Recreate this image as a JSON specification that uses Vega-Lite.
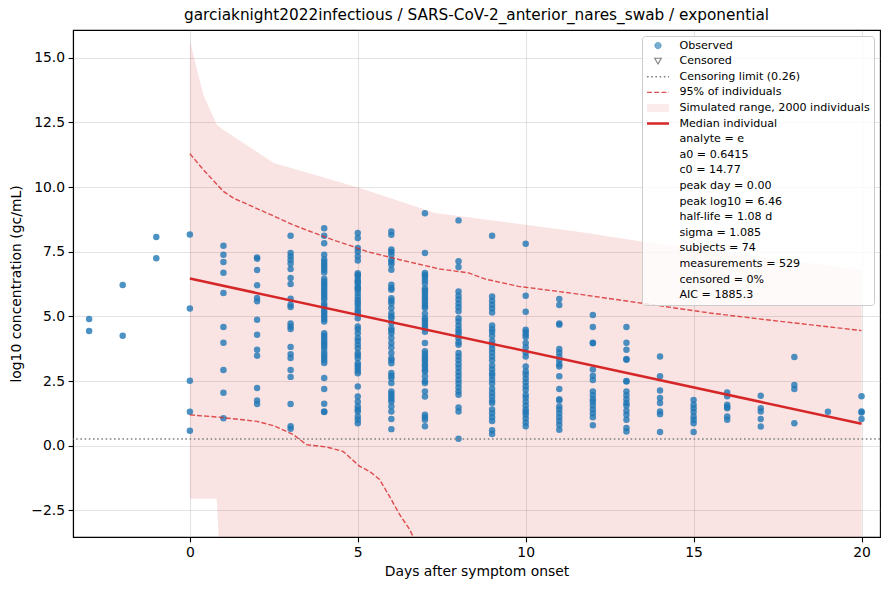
{
  "$schema": "https://vega.github.io/schema/vega-lite/v6.json",
  "width": 807,
  "height": 507,
  "autosize": {"type": "none"},
  "padding": {"left": 73, "top": 30, "right": 9, "bottom": 53},
  "background": "white",
  "title": {
    "text": "garciaknight2022infectious / SARS-CoV-2_anterior_nares_swab / exponential",
    "font": "DejaVu Sans", "fontSize": 15.3, "fontWeight": "normal", "color": "black",
    "anchor": "middle", "frame": "group", "offset": 7
  },
  "config": {
    "view": {"stroke": "black", "strokeWidth": 1.1},
    "axis": {
      "labelFont": "DejaVu Sans", "titleFont": "DejaVu Sans",
      "labelFontSize": 13.9, "titleFontSize": 13.9, "titleFontWeight": "normal",
      "labelColor": "black", "titleColor": "black",
      "tickColor": "black", "tickWidth": 1.1, "tickSize": 4.9, "labelPadding": 3.5,
      "domainColor": "black", "domainWidth": 1.1,
      "grid": true, "gridColor": "#b0b0b0", "gridOpacity": 0.35, "gridWidth": 1.1
    },
    "legend": {
      "orient": "top-right",
      "offset": 6,
      "padding": 4,
      "fillColor": "rgba(255,255,255,0.8)",
      "strokeColor": "#cccccc",
      "cornerRadius": 3,
      "labelFont": "DejaVu Sans",
      "labelFontSize": 11.1,
      "labelColor": "black",
      "labelLimit": 400,
      "labelOffset": 15.9,
      "symbolOffset": 6.45,
      "rowPadding": 3.6,
      "symbolLimit": 40
    }
  },
  "datasets": {
    "obs": [
      {"day": -3, "log10": 4.90}, {"day": -3, "log10": 4.43},
      {"day": -2, "log10": 6.21}, {"day": -2, "log10": 4.25},
      {"day": -1, "log10": 8.07}, {"day": -1, "log10": 7.25},
      {"day": 0, "log10": 8.16}, {"day": 0, "log10": 5.30}, {"day": 0, "log10": 2.51}, {"day": 0, "log10": 1.31}, {"day": 0, "log10": 0.58},
      {"day": 1, "log10": 7.73}, {"day": 1, "log10": 7.38}, {"day": 1, "log10": 7.10}, {"day": 1, "log10": 6.69}, {"day": 1, "log10": 5.90}, {"day": 1, "log10": 4.59}, {"day": 1, "log10": 3.98}, {"day": 1, "log10": 2.93}, {"day": 1, "log10": 2.05}, {"day": 1, "log10": 1.06},
      {"day": 2, "log10": 7.28}, {"day": 2, "log10": 7.23}, {"day": 2, "log10": 6.79}, {"day": 2, "log10": 6.20}, {"day": 2, "log10": 5.71}, {"day": 2, "log10": 5.58}, {"day": 2, "log10": 4.87}, {"day": 2, "log10": 4.29}, {"day": 2, "log10": 3.71}, {"day": 2, "log10": 3.48}, {"day": 2, "log10": 2.23}, {"day": 2, "log10": 1.75}, {"day": 2, "log10": 1.61},
      {"day": 3, "log10": 8.12}, {"day": 3, "log10": 7.45}, {"day": 3, "log10": 7.32}, {"day": 3, "log10": 7.19}, {"day": 3, "log10": 7.04}, {"day": 3, "log10": 6.83}, {"day": 3, "log10": 6.48}, {"day": 3, "log10": 6.25}, {"day": 3, "log10": 5.68}, {"day": 3, "log10": 5.45}, {"day": 3, "log10": 5.36}, {"day": 3, "log10": 4.72}, {"day": 3, "log10": 4.61}, {"day": 3, "log10": 4.51}, {"day": 3, "log10": 3.82}, {"day": 3, "log10": 3.54}, {"day": 3, "log10": 3.39}, {"day": 3, "log10": 2.93}, {"day": 3, "log10": 2.66}, {"day": 3, "log10": 1.61}, {"day": 3, "log10": 0.75}, {"day": 3, "log10": 0.65},
      {"day": 4, "log10": 8.41}, {"day": 4, "log10": 8.12}, {"day": 4, "log10": 7.83}, {"day": 4, "log10": 7.38}, {"day": 4, "log10": 7.2}, {"day": 4, "log10": 7.1}, {"day": 4, "log10": 7.0}, {"day": 4, "log10": 6.9}, {"day": 4, "log10": 6.8}, {"day": 4, "log10": 6.7}, {"day": 4, "log10": 6.45}, {"day": 4, "log10": 6.35}, {"day": 4, "log10": 6.25}, {"day": 4, "log10": 6.15}, {"day": 4, "log10": 6.05}, {"day": 4, "log10": 5.95}, {"day": 4, "log10": 5.85}, {"day": 4, "log10": 5.75}, {"day": 4, "log10": 5.65}, {"day": 4, "log10": 5.5}, {"day": 4, "log10": 5.4}, {"day": 4, "log10": 5.3}, {"day": 4, "log10": 5.2}, {"day": 4, "log10": 5.1}, {"day": 4, "log10": 5.0}, {"day": 4, "log10": 4.9}, {"day": 4, "log10": 4.8}, {"day": 4, "log10": 4.35}, {"day": 4, "log10": 4.25}, {"day": 4, "log10": 4.15}, {"day": 4, "log10": 4.05}, {"day": 4, "log10": 3.95}, {"day": 4, "log10": 3.85}, {"day": 4, "log10": 3.75}, {"day": 4, "log10": 3.6}, {"day": 4, "log10": 3.5}, {"day": 4, "log10": 3.4}, {"day": 4, "log10": 3.3}, {"day": 4, "log10": 3.2}, {"day": 4, "log10": 2.62}, {"day": 4, "log10": 2.19}, {"day": 4, "log10": 1.62}, {"day": 4, "log10": 1.32}, {"day": 4, "log10": 1.30},
      {"day": 5, "log10": 8.22}, {"day": 5, "log10": 8.03}, {"day": 5, "log10": 7.64}, {"day": 5, "log10": 7.51}, {"day": 5, "log10": 7.32}, {"day": 5, "log10": 7.16}, {"day": 5, "log10": 6.67}, {"day": 5, "log10": 6.6}, {"day": 5, "log10": 6.54}, {"day": 5, "log10": 6.41}, {"day": 5, "log10": 6.35}, {"day": 5, "log10": 6.28}, {"day": 5, "log10": 6.15}, {"day": 5, "log10": 6.1}, {"day": 5, "log10": 6.03}, {"day": 5, "log10": 5.9}, {"day": 5, "log10": 5.77}, {"day": 5, "log10": 5.64}, {"day": 5, "log10": 5.55}, {"day": 5, "log10": 5.45}, {"day": 5, "log10": 5.32}, {"day": 5, "log10": 5.2}, {"day": 5, "log10": 5.12}, {"day": 5, "log10": 4.93}, {"day": 5, "log10": 4.61}, {"day": 5, "log10": 4.5}, {"day": 5, "log10": 4.35}, {"day": 5, "log10": 4.16}, {"day": 5, "log10": 4.05}, {"day": 5, "log10": 3.90}, {"day": 5, "log10": 3.77}, {"day": 5, "log10": 3.58}, {"day": 5, "log10": 3.5}, {"day": 5, "log10": 3.38}, {"day": 5, "log10": 3.19}, {"day": 5, "log10": 3.1}, {"day": 5, "log10": 3.0}, {"day": 5, "log10": 2.9}, {"day": 5, "log10": 2.8}, {"day": 5, "log10": 2.29}, {"day": 5, "log10": 1.90}, {"day": 5, "log10": 1.7}, {"day": 5, "log10": 1.52}, {"day": 5, "log10": 1.4}, {"day": 5, "log10": 1.32}, {"day": 5, "log10": 1.13}, {"day": 5, "log10": 1.0}, {"day": 5, "log10": 0.87},
      {"day": 6, "log10": 8.28}, {"day": 6, "log10": 8.15}, {"day": 6, "log10": 7.58}, {"day": 6, "log10": 7.5}, {"day": 6, "log10": 7.38}, {"day": 6, "log10": 7.19}, {"day": 6, "log10": 7.1}, {"day": 6, "log10": 7.0}, {"day": 6, "log10": 6.80}, {"day": 6, "log10": 6.22}, {"day": 6, "log10": 6.1}, {"day": 6, "log10": 6.03}, {"day": 6, "log10": 5.70}, {"day": 6, "log10": 5.6}, {"day": 6, "log10": 5.51}, {"day": 6, "log10": 5.32}, {"day": 6, "log10": 5.12}, {"day": 6, "log10": 5.0}, {"day": 6, "log10": 4.93}, {"day": 6, "log10": 4.74}, {"day": 6, "log10": 4.54}, {"day": 6, "log10": 4.45}, {"day": 6, "log10": 4.35}, {"day": 6, "log10": 4.16}, {"day": 6, "log10": 3.97}, {"day": 6, "log10": 3.8}, {"day": 6, "log10": 3.58}, {"day": 6, "log10": 3.38}, {"day": 6, "log10": 3.3}, {"day": 6, "log10": 3.19}, {"day": 6, "log10": 2.81}, {"day": 6, "log10": 2.7}, {"day": 6, "log10": 2.61}, {"day": 6, "log10": 2.42}, {"day": 6, "log10": 2.1}, {"day": 6, "log10": 2.0}, {"day": 6, "log10": 1.90}, {"day": 6, "log10": 1.8}, {"day": 6, "log10": 1.71}, {"day": 6, "log10": 1.52}, {"day": 6, "log10": 1.32}, {"day": 6, "log10": 1.03}, {"day": 6, "log10": 0.64},
      {"day": 7, "log10": 8.99}, {"day": 7, "log10": 7.45}, {"day": 7, "log10": 6.68}, {"day": 7, "log10": 6.6}, {"day": 7, "log10": 6.52}, {"day": 7, "log10": 6.4}, {"day": 7, "log10": 6.28}, {"day": 7, "log10": 6.09}, {"day": 7, "log10": 6.0}, {"day": 7, "log10": 5.90}, {"day": 7, "log10": 5.8}, {"day": 7, "log10": 5.70}, {"day": 7, "log10": 5.6}, {"day": 7, "log10": 5.51}, {"day": 7, "log10": 5.4}, {"day": 7, "log10": 5.32}, {"day": 7, "log10": 5.1}, {"day": 7, "log10": 4.93}, {"day": 7, "log10": 4.85}, {"day": 7, "log10": 4.74}, {"day": 7, "log10": 4.65}, {"day": 7, "log10": 4.54}, {"day": 7, "log10": 4.4}, {"day": 7, "log10": 3.97}, {"day": 7, "log10": 3.65}, {"day": 7, "log10": 3.55}, {"day": 7, "log10": 3.45}, {"day": 7, "log10": 3.35}, {"day": 7, "log10": 3.26}, {"day": 7, "log10": 3.15}, {"day": 7, "log10": 3.06}, {"day": 7, "log10": 2.95}, {"day": 7, "log10": 2.87}, {"day": 7, "log10": 2.68}, {"day": 7, "log10": 2.5}, {"day": 7, "log10": 2.42}, {"day": 7, "log10": 2.1}, {"day": 7, "log10": 1.90}, {"day": 7, "log10": 1.20}, {"day": 7, "log10": 1.1}, {"day": 7, "log10": 1.0}, {"day": 7, "log10": 0.75},
      {"day": 8, "log10": 8.71}, {"day": 8, "log10": 7.13}, {"day": 8, "log10": 6.91}, {"day": 8, "log10": 5.96}, {"day": 8, "log10": 5.8}, {"day": 8, "log10": 5.65}, {"day": 8, "log10": 5.5}, {"day": 8, "log10": 5.35}, {"day": 8, "log10": 5.2}, {"day": 8, "log10": 4.93}, {"day": 8, "log10": 4.8}, {"day": 8, "log10": 4.65}, {"day": 8, "log10": 4.5}, {"day": 8, "log10": 4.4}, {"day": 8, "log10": 4.3}, {"day": 8, "log10": 4.15}, {"day": 8, "log10": 4.0}, {"day": 8, "log10": 3.9}, {"day": 8, "log10": 3.58}, {"day": 8, "log10": 3.45}, {"day": 8, "log10": 3.3}, {"day": 8, "log10": 3.15}, {"day": 8, "log10": 3.0}, {"day": 8, "log10": 2.85}, {"day": 8, "log10": 2.7}, {"day": 8, "log10": 2.55}, {"day": 8, "log10": 2.4}, {"day": 8, "log10": 2.25}, {"day": 8, "log10": 2.1}, {"day": 8, "log10": 1.97}, {"day": 8, "log10": 1.48}, {"day": 8, "log10": 1.32}, {"day": 8, "log10": 0.27},
      {"day": 9, "log10": 8.12}, {"day": 9, "log10": 5.77}, {"day": 9, "log10": 5.6}, {"day": 9, "log10": 5.45}, {"day": 9, "log10": 5.3}, {"day": 9, "log10": 5.15}, {"day": 9, "log10": 4.65}, {"day": 9, "log10": 4.5}, {"day": 9, "log10": 4.4}, {"day": 9, "log10": 4.25}, {"day": 9, "log10": 4.05}, {"day": 9, "log10": 3.9}, {"day": 9, "log10": 3.75}, {"day": 9, "log10": 3.6}, {"day": 9, "log10": 3.45}, {"day": 9, "log10": 3.3}, {"day": 9, "log10": 3.1}, {"day": 9, "log10": 2.95}, {"day": 9, "log10": 2.8}, {"day": 9, "log10": 2.7}, {"day": 9, "log10": 2.55}, {"day": 9, "log10": 2.4}, {"day": 9, "log10": 2.2}, {"day": 9, "log10": 2.05}, {"day": 9, "log10": 1.9}, {"day": 9, "log10": 1.75}, {"day": 9, "log10": 1.65}, {"day": 9, "log10": 1.4}, {"day": 9, "log10": 1.25}, {"day": 9, "log10": 1.1}, {"day": 9, "log10": 0.95}, {"day": 9, "log10": 0.6}, {"day": 9, "log10": 0.45},
      {"day": 10, "log10": 7.81}, {"day": 10, "log10": 5.8}, {"day": 10, "log10": 5.18}, {"day": 10, "log10": 4.48}, {"day": 10, "log10": 4.4}, {"day": 10, "log10": 4.3}, {"day": 10, "log10": 4.2}, {"day": 10, "log10": 3.97}, {"day": 10, "log10": 3.8}, {"day": 10, "log10": 3.6}, {"day": 10, "log10": 3.45}, {"day": 10, "log10": 3.06}, {"day": 10, "log10": 2.87}, {"day": 10, "log10": 2.75}, {"day": 10, "log10": 2.6}, {"day": 10, "log10": 2.45}, {"day": 10, "log10": 2.3}, {"day": 10, "log10": 2.16}, {"day": 10, "log10": 1.97}, {"day": 10, "log10": 1.85}, {"day": 10, "log10": 1.7}, {"day": 10, "log10": 1.55}, {"day": 10, "log10": 1.4}, {"day": 10, "log10": 1.3}, {"day": 10, "log10": 1.2}, {"day": 10, "log10": 1.05}, {"day": 10, "log10": 0.9}, {"day": 10, "log10": 0.75},
      {"day": 11, "log10": 5.67}, {"day": 11, "log10": 5.44}, {"day": 11, "log10": 4.72}, {"day": 11, "log10": 4.68}, {"day": 11, "log10": 3.74}, {"day": 11, "log10": 3.6}, {"day": 11, "log10": 3.45}, {"day": 11, "log10": 3.3}, {"day": 11, "log10": 3.15}, {"day": 11, "log10": 3.06}, {"day": 11, "log10": 2.68}, {"day": 11, "log10": 2.19}, {"day": 11, "log10": 1.8}, {"day": 11, "log10": 1.75}, {"day": 11, "log10": 1.52}, {"day": 11, "log10": 1.4}, {"day": 11, "log10": 1.25}, {"day": 11, "log10": 1.1}, {"day": 11, "log10": 0.95}, {"day": 11, "log10": 0.8}, {"day": 11, "log10": 0.62},
      {"day": 12, "log10": 5.05}, {"day": 12, "log10": 4.59}, {"day": 12, "log10": 3.98}, {"day": 12, "log10": 3.96}, {"day": 12, "log10": 2.95}, {"day": 12, "log10": 2.7}, {"day": 12, "log10": 2.54}, {"day": 12, "log10": 2.1}, {"day": 12, "log10": 1.95}, {"day": 12, "log10": 1.8}, {"day": 12, "log10": 1.7}, {"day": 12, "log10": 1.55}, {"day": 12, "log10": 1.4}, {"day": 12, "log10": 1.25}, {"day": 12, "log10": 1.1}, {"day": 12, "log10": 0.79},
      {"day": 13, "log10": 4.59}, {"day": 13, "log10": 3.98}, {"day": 13, "log10": 3.71}, {"day": 13, "log10": 3.35}, {"day": 13, "log10": 3.32}, {"day": 13, "log10": 2.5}, {"day": 13, "log10": 2.48}, {"day": 13, "log10": 2.1}, {"day": 13, "log10": 1.95}, {"day": 13, "log10": 1.8}, {"day": 13, "log10": 1.65}, {"day": 13, "log10": 1.55}, {"day": 13, "log10": 1.35}, {"day": 13, "log10": 1.2}, {"day": 13, "log10": 1.0}, {"day": 13, "log10": 0.68}, {"day": 13, "log10": 0.55},
      {"day": 14, "log10": 3.45}, {"day": 14, "log10": 2.68}, {"day": 14, "log10": 2.13}, {"day": 14, "log10": 1.84}, {"day": 14, "log10": 1.65}, {"day": 14, "log10": 1.32}, {"day": 14, "log10": 1.22}, {"day": 14, "log10": 0.53},
      {"day": 15, "log10": 1.77}, {"day": 15, "log10": 1.58}, {"day": 15, "log10": 1.45}, {"day": 15, "log10": 1.3}, {"day": 15, "log10": 1.13}, {"day": 15, "log10": 1.0}, {"day": 15, "log10": 0.87}, {"day": 15, "log10": 0.53},
      {"day": 16, "log10": 2.06}, {"day": 16, "log10": 1.91}, {"day": 16, "log10": 1.58}, {"day": 16, "log10": 1.5}, {"day": 16, "log10": 1.45}, {"day": 16, "log10": 1.13}, {"day": 16, "log10": 1.0},
      {"day": 17, "log10": 1.93}, {"day": 17, "log10": 1.45}, {"day": 17, "log10": 1.32}, {"day": 17, "log10": 1.03}, {"day": 17, "log10": 0.74},
      {"day": 18, "log10": 3.43}, {"day": 18, "log10": 2.35}, {"day": 18, "log10": 2.19}, {"day": 18, "log10": 0.87},
      {"day": 19, "log10": 1.31},
      {"day": 20, "log10": 1.91}, {"day": 20, "log10": 1.32}, {"day": 20, "log10": 1.28}, {"day": 20, "log10": 1.03}
    ],
    "range": [
      {"day": 0, "lo": -2.05, "hi": 15.65},
      {"day": 0.4, "lo": -2.05, "hi": 13.57},
      {"day": 0.8, "lo": -2.05, "hi": 12.41},
      {"day": 0.95, "lo": -6.0, "hi": 12.25},
      {"day": 2.5, "lo": -9.0, "hi": 10.93},
      {"day": 5.06, "lo": -9.0, "hi": 9.96},
      {"day": 7.3, "lo": -9.0, "hi": 9.0},
      {"day": 11.46, "lo": -9.0, "hi": 8.29},
      {"day": 13.4, "lo": -9.0, "hi": 7.9},
      {"day": 20, "lo": -9.0, "hi": 6.8}
    ],
    "band": [
      {"bound": "upper", "day": 0, "log10": 11.29},
      {"bound": "upper", "day": 0.4, "log10": 10.67},
      {"bound": "upper", "day": 1.0, "log10": 9.83},
      {"bound": "upper", "day": 1.3, "log10": 9.57},
      {"bound": "upper", "day": 2.08, "log10": 9.12},
      {"bound": "upper", "day": 3.07, "log10": 8.54},
      {"bound": "upper", "day": 3.57, "log10": 8.29},
      {"bound": "upper", "day": 4.27, "log10": 7.95},
      {"bound": "upper", "day": 4.86, "log10": 7.70},
      {"bound": "upper", "day": 5.26, "log10": 7.51},
      {"bound": "upper", "day": 6.25, "log10": 7.19},
      {"bound": "upper", "day": 7.44, "log10": 6.83},
      {"bound": "upper", "day": 8.3, "log10": 6.68},
      {"bound": "upper", "day": 8.8, "log10": 6.44},
      {"bound": "upper", "day": 9.78, "log10": 6.16},
      {"bound": "upper", "day": 11.46, "log10": 5.88},
      {"bound": "upper", "day": 13.5, "log10": 5.5},
      {"bound": "upper", "day": 15.48, "log10": 5.13},
      {"bound": "upper", "day": 17.16, "log10": 4.87},
      {"bound": "upper", "day": 20, "log10": 4.45},
      {"bound": "lower", "day": 0, "log10": 1.19},
      {"bound": "lower", "day": 0.8, "log10": 1.11},
      {"bound": "lower", "day": 2.0, "log10": 0.94},
      {"bound": "lower", "day": 2.5, "log10": 0.77},
      {"bound": "lower", "day": 3.08, "log10": 0.43},
      {"bound": "lower", "day": 3.47, "log10": 0.04},
      {"bound": "lower", "day": 4.07, "log10": -0.05},
      {"bound": "lower", "day": 4.56, "log10": -0.22},
      {"bound": "lower", "day": 5.06, "log10": -0.80},
      {"bound": "lower", "day": 5.36, "log10": -1.0},
      {"bound": "lower", "day": 5.65, "log10": -1.31},
      {"bound": "lower", "day": 5.95, "log10": -1.97},
      {"bound": "lower", "day": 6.25, "log10": -2.67},
      {"bound": "lower", "day": 6.55, "log10": -3.25},
      {"bound": "lower", "day": 7.0, "log10": -4.5}
    ],
    "median": [
      {"day": 0, "log10": 6.46},
      {"day": 20, "log10": 0.85}
    ],
    "limit": [
      {"log10": 0.26}
    ]
  },
  "layer": [
    {
      "data": {"name": "range"},
      "mark": {"type": "area", "color": "#d62728", "opacity": 0.13, "clip": true},
      "encoding": {
        "x": {"field": "day", "type": "quantitative", "scale": {"domain": [-3.48, 20.55], "nice": false, "zero": false},
              "axis": {"title": "Days after symptom onset", "values": [0, 5, 10, 15, 20], "format": "d", "titlePadding": 5}},
        "y": {"field": "lo", "type": "quantitative", "scale": {"domain": [-3.53, 16.07], "nice": false, "zero": false},
              "axis": {"title": "log10 concentration (gc/mL)", "values": [-2.5, 0, 2.5, 5, 7.5, 10, 12.5, 15], "format": ".1f", "titlePadding": 7}},
        "y2": {"field": "hi"}
      }
    },
    {
      "data": {"name": "obs"},
      "mark": {"type": "circle", "color": "#1f77b4", "size": 42, "opacity": 0.8},
      "encoding": {
        "x": {"field": "day", "type": "quantitative"},
        "y": {"field": "log10", "type": "quantitative"}
      }
    },
    {
      "data": {"name": "limit"},
      "mark": {"type": "rule", "color": "#808080", "strokeDash": [1.6, 2.6], "strokeWidth": 1.6},
      "encoding": {
        "y": {"field": "log10", "type": "quantitative"}
      }
    },
    {
      "data": {"name": "band"},
      "mark": {"type": "line", "color": "#d62728", "strokeDash": [5, 2.2], "strokeWidth": 1.4, "opacity": 0.8, "clip": true},
      "encoding": {
        "x": {"field": "day", "type": "quantitative"},
        "y": {"field": "log10", "type": "quantitative"},
        "detail": {"field": "bound"}
      }
    },
    {
      "data": {"name": "median"},
      "mark": {"type": "line", "color": "#d62728", "strokeWidth": 2.5},
      "encoding": {
        "x": {"field": "day", "type": "quantitative"},
        "y": {"field": "log10", "type": "quantitative"}
      }
    },
    {
      "data": {"values": []},
      "mark": {"type": "point", "filled": true},
      "encoding": {
        "fill": {
          "field": "entry", "type": "nominal", "legend": {"title": null},
          "scale": {
            "domain": ["Observed", "Censored", "Censoring limit (0.26)", "95% of individuals", "Simulated range, 2000 individuals", "Median individual", "analyte = e", "a0 = 0.6415", "c0 = 14.77", "peak day = 0.00", "peak log10 = 6.46", "half-life = 1.08 d", "sigma = 1.085", "subjects = 74", "measurements = 529", "censored = 0%", "AIC = 1885.3"],
            "range": ["#1f77b4", "transparent", "transparent", "transparent", "#fae3e3", "transparent", "transparent", "transparent", "transparent", "transparent", "transparent", "transparent", "transparent", "transparent", "transparent", "transparent", "transparent"]
          }
        },
        "stroke": {
          "field": "entry", "type": "nominal", "legend": {"title": null},
          "scale": {
            "domain": ["Observed", "Censored", "Censoring limit (0.26)", "95% of individuals", "Simulated range, 2000 individuals", "Median individual", "analyte = e", "a0 = 0.6415", "c0 = 14.77", "peak day = 0.00", "peak log10 = 6.46", "half-life = 1.08 d", "sigma = 1.085", "subjects = 74", "measurements = 529", "censored = 0%", "AIC = 1885.3"],
            "range": ["#1f77b4", "#808080", "#808080", "#de5253", "transparent", "#d62728", "transparent", "transparent", "transparent", "transparent", "transparent", "transparent", "transparent", "transparent", "transparent", "transparent", "transparent"]
          }
        },
        "shape": {
          "field": "entry", "type": "nominal", "legend": {"title": null},
          "scale": {
            "domain": ["Observed", "Censored", "Censoring limit (0.26)", "95% of individuals", "Simulated range, 2000 individuals", "Median individual", "analyte = e", "a0 = 0.6415", "c0 = 14.77", "peak day = 0.00", "peak log10 = 6.46", "half-life = 1.08 d", "sigma = 1.085", "subjects = 74", "measurements = 529", "censored = 0%", "AIC = 1885.3"],
            "range": ["circle", "triangle-down", "M-2.75,0H2.75", "M-2.75,0H2.75", "M-2.75,-0.97H2.75V0.97H-2.75Z", "M-2.75,0H2.75", "circle", "circle", "circle", "circle", "circle", "circle", "circle", "circle", "circle", "circle", "circle"]
          }
        },
        "size": {
          "field": "entry", "type": "nominal", "legend": {"title": null},
          "scale": {
            "type": "ordinal",
            "domain": ["Observed", "Censored", "Censoring limit (0.26)", "95% of individuals", "Simulated range, 2000 individuals", "Median individual", "analyte = e", "a0 = 0.6415", "c0 = 14.77", "peak day = 0.00", "peak log10 = 6.46", "half-life = 1.08 d", "sigma = 1.085", "subjects = 74", "measurements = 529", "censored = 0%", "AIC = 1885.3"],
            "range": [40, 44, 64, 64, 64, 64, 0, 0, 0, 0, 0, 0, 0, 0, 0, 0, 0]
          }
        },
        "strokeWidth": {
          "field": "entry", "type": "nominal", "legend": {"title": null},
          "scale": {
            "type": "ordinal",
            "domain": ["Observed", "Censored", "Censoring limit (0.26)", "95% of individuals", "Simulated range, 2000 individuals", "Median individual", "analyte = e", "a0 = 0.6415", "c0 = 14.77", "peak day = 0.00", "peak log10 = 6.46", "half-life = 1.08 d", "sigma = 1.085", "subjects = 74", "measurements = 529", "censored = 0%", "AIC = 1885.3"],
            "range": [0.6, 1.1, 1.6, 1.4, 0, 2.5, 0, 0, 0, 0, 0, 0, 0, 0, 0, 0, 0]
          }
        },
        "strokeDash": {
          "field": "entry", "type": "nominal", "legend": {"title": null},
          "scale": {
            "domain": ["Observed", "Censored", "Censoring limit (0.26)", "95% of individuals", "Simulated range, 2000 individuals", "Median individual", "analyte = e", "a0 = 0.6415", "c0 = 14.77", "peak day = 0.00", "peak log10 = 6.46", "half-life = 1.08 d", "sigma = 1.085", "subjects = 74", "measurements = 529", "censored = 0%", "AIC = 1885.3"],
            "range": [[1, 0], [1, 0], [1.6, 2.6], [5, 2.2], [1, 0], [1, 0], [1, 0], [1, 0], [1, 0], [1, 0], [1, 0], [1, 0], [1, 0], [1, 0], [1, 0], [1, 0], [1, 0]]
          }
        },
        "opacity": {
          "field": "entry", "type": "nominal", "legend": {"title": null},
          "scale": {
            "type": "ordinal",
            "domain": ["Observed", "Censored", "Censoring limit (0.26)", "95% of individuals", "Simulated range, 2000 individuals", "Median individual", "analyte = e", "a0 = 0.6415", "c0 = 14.77", "peak day = 0.00", "peak log10 = 6.46", "half-life = 1.08 d", "sigma = 1.085", "subjects = 74", "measurements = 529", "censored = 0%", "AIC = 1885.3"],
            "range": [0.85, 1, 1, 1, 1, 1, 0, 0, 0, 0, 0, 0, 0, 0, 0, 0, 0]
          }
        }
      }
    }
  ]
}
